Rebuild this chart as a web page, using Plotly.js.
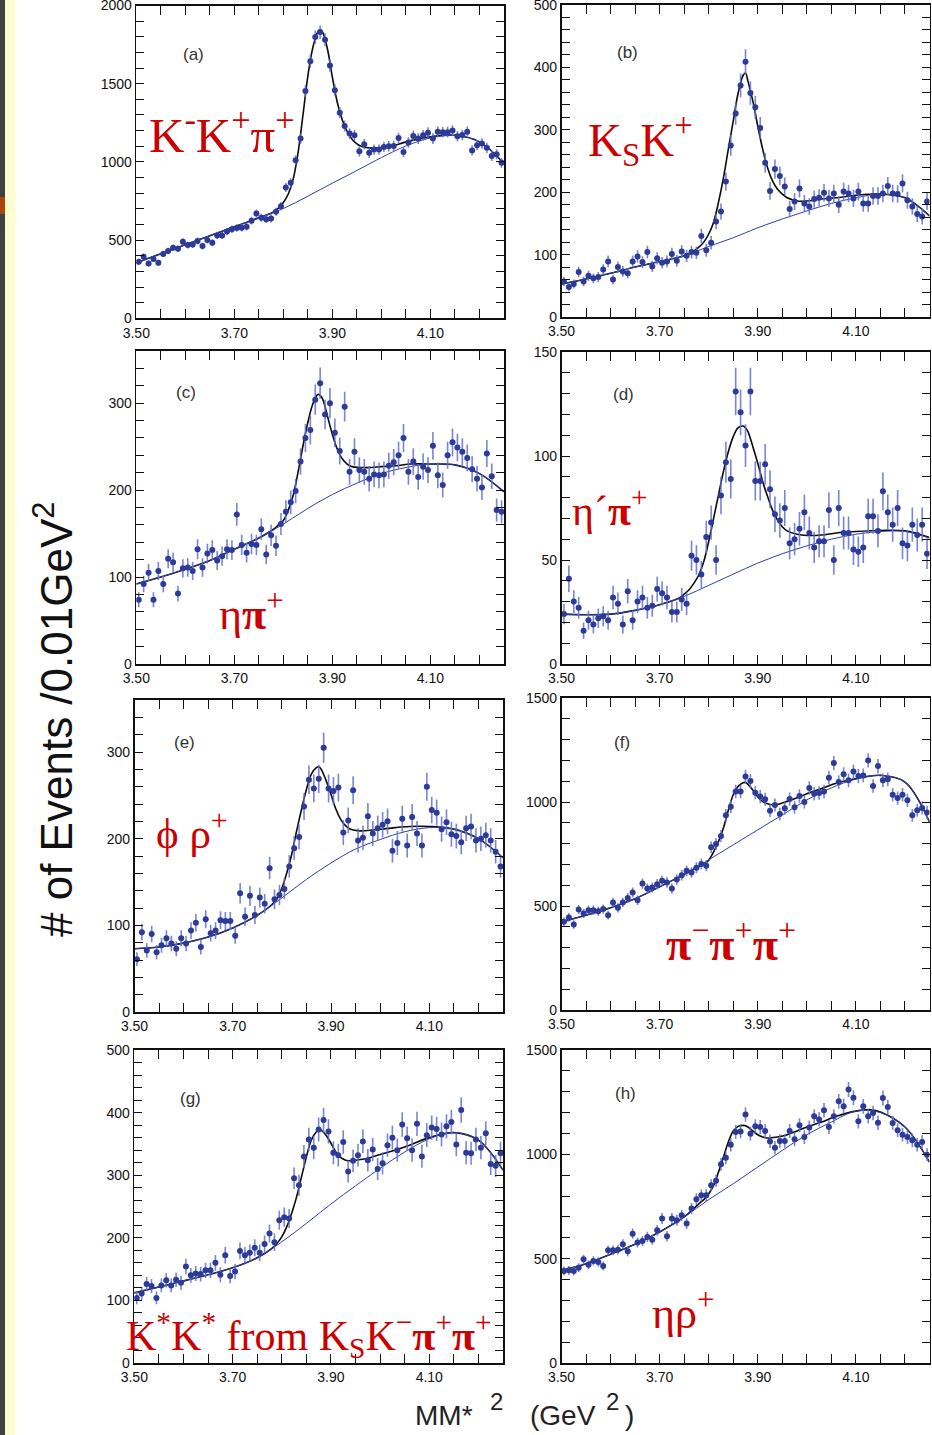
<!DOCTYPE html>
<html>
<head>
<meta charset="utf-8">
<script src="https://cdn.plot.ly/plotly-3.0.1.min.js"></script>
<style>
  html, body { margin: 0; padding: 0; background: #ffffff; }
  #chart { width: 932px; height: 1435px; }
</style>
</head>
<body>
<div id="chart"></div>
<script>
// Missing-mass-squared spectra, 0.01 GeV^2 bins from 3.50 to 4.25 GeV^2
const binLo = 3.50;
const binWidth = 0.01;

// Event counts per bin for each final state
const countsA = [362,394,351,379,355,411,430,451,445,489,468,472,494,462,500,483,530,530,555,570,577,579,585,624,670,643,634,638,681,717,836,866,1011,1149,1453,1643,1798,1830,1781,1617,1458,1315,1230,1181,1170,1068,1113,1058,1079,1079,1096,1100,1102,1153,1064,1124,1166,1149,1170,1187,1149,1192,1190,1190,1200,1164,1172,1192,1073,1107,1117,1090,1038,1049,994];
const countsB = [57,48,53,72,57,66,62,64,76,89,60,80,73,70,89,97,88,104,81,94,87,89,101,90,105,98,104,103,130,107,119,153,169,217,275,326,371,409,359,336,303,247,202,237,226,209,173,185,206,182,177,189,191,199,190,198,180,201,198,190,201,182,182,194,194,198,210,198,197,214,187,177,165,161,185];
const countsC = [74,92,105,74,107,92,121,117,81,110,111,107,132,111,127,131,119,124,132,131,172,137,128,138,137,155,126,148,136,161,175,186,199,233,260,269,304,323,287,300,266,245,296,221,244,223,221,213,218,217,218,228,232,240,260,221,233,215,227,223,251,217,206,240,255,249,244,237,224,213,203,242,216,177,175];
const countsD = [24,41,30,27,16,21,19,22,23,21,32,29,19,35,21,30,32,27,28,36,34,32,25,25,31,29,52,50,43,61,68,50,81,97,89,131,121,105,131,88,88,96,84,72,69,75,58,60,65,73,63,56,59,59,74,50,75,63,63,55,54,56,71,71,64,83,73,67,75,58,57,67,62,67,53];
const countsE = [61,92,71,90,69,77,85,79,73,85,79,94,103,75,107,91,94,106,105,105,88,137,110,134,112,132,125,166,130,135,142,168,189,202,237,268,258,269,305,258,255,259,207,221,256,198,201,226,206,212,216,220,186,195,223,192,225,206,192,260,233,230,211,219,205,203,196,212,214,198,200,204,198,185,168];
const countsF = [424,445,411,483,464,480,480,475,485,456,517,491,517,539,565,528,608,584,589,605,621,613,584,627,648,669,661,684,702,694,782,798,837,936,977,1050,1050,1122,1101,1045,1026,1013,958,986,942,970,1014,975,1029,1000,1067,1040,1043,1051,1117,1187,1096,1133,1104,1147,1125,1128,1200,1077,1173,1104,1109,1035,1019,1035,1008,936,960,971,950];
const countsG = [104,111,126,123,104,124,132,124,133,128,154,140,143,142,148,148,160,141,172,139,146,179,172,176,184,176,190,207,193,228,233,231,295,284,330,357,344,373,388,370,336,332,353,306,323,332,354,324,341,310,319,348,360,340,381,359,340,382,330,364,376,374,365,378,385,349,404,336,335,357,344,367,318,315,335];
const countsH = [441,444,441,457,497,471,489,484,465,540,540,543,569,535,620,577,585,604,591,636,692,607,692,684,708,668,740,785,804,804,852,873,952,984,1046,1107,1110,1191,1099,1134,1131,1112,1062,1032,1064,1064,1112,1072,1139,1083,1128,1182,1167,1211,1131,1182,1254,1231,1311,1271,1158,1230,1182,1198,1151,1270,1227,1150,1115,1094,1083,1067,1046,1059,998];

// Background fit curves sampled every 0.05 GeV^2
const bgX = [3.50,3.55,3.60,3.65,3.70,3.75,3.80,3.85,3.90,3.95,4.00,4.05,4.10,4.15,4.20,4.25];
const bgA = [355,413,470,528,585,643,702,781,864,945,1028,1102,1153,1170,1128,990];
const bgB = [53,61,70,80,89,98,113,127,143,157,170,182,191,197,191,162];
const bgC = [92,100,109,119,132,145,161,179,195,208,219,226,230,229,219,198];
const bgD = [24,23.7,24,25.8,28.5,32.5,37.8,43.2,48.5,53,56.8,60,62.4,63.7,63.7,60.5];
const bgE = [73,75,79.5,86.5,97,111.6,131.7,153,172,188,199,208,212.7,211,200,178];
const bgF = [424,456,492,535,592,652,722,794,866,938,1010,1068,1110,1128,1096,904];
const bgG = [112,121.5,131,141,152,168,193.5,223,254,283,311,337,358,368,356,308];
const bgH = [444,476,521,569,628,700,783,859,939,1019,1094,1155,1207,1200,1131,963];

// Total fit (signal + background) sampled more densely across the peak
const fitXA = [3.50,3.55,3.60,3.65,3.70,3.75,3.78,3.79,3.80,3.81,3.82,3.83,3.84,3.85,3.86,3.87,3.875,3.88,3.89,3.90,3.91,3.92,3.93,3.94,3.95,3.96,3.98,4.00,4.02,4.05,4.10,4.15,4.20,4.25];
const fitA  = [355,413,470,528,585,643,680,705,740,795,890,1060,1300,1550,1730,1830,1845,1830,1720,1540,1380,1270,1195,1145,1115,1098,1088,1092,1100,1128,1160,1170,1128,990];
const fitXB = [3.50,3.55,3.60,3.65,3.70,3.75,3.77,3.78,3.79,3.80,3.81,3.82,3.83,3.84,3.85,3.86,3.87,3.875,3.88,3.89,3.90,3.91,3.92,3.93,3.94,3.95,3.96,3.98,4.00,4.03,4.06,4.10,4.15,4.20,4.25];
const fitB  = [53,61,70,80,89,98,106,112,120,133,152,184,223,269,314,359,387,391,378,346,306,269,239,218,205,197,191,186,186,189,191,195,197,191,162];
const fitXC = [3.50,3.55,3.60,3.65,3.70,3.75,3.78,3.79,3.80,3.81,3.82,3.83,3.84,3.85,3.86,3.87,3.875,3.88,3.89,3.90,3.91,3.92,3.93,3.94,3.96,3.98,4.00,4.03,4.06,4.10,4.15,4.20,4.25];
const fitC  = [92,100,109,119,132,145,155,160,165,177,194,221,251,278,299,310,309,305,285,264,247,236,230,227,226,226,227,228,230,230,229,219,198];
const fitXD = [3.50,3.55,3.60,3.65,3.70,3.74,3.75,3.76,3.77,3.78,3.79,3.80,3.81,3.82,3.83,3.84,3.85,3.86,3.87,3.875,3.88,3.89,3.90,3.91,3.92,3.93,3.94,3.95,3.96,3.98,4.00,4.03,4.06,4.10,4.15,4.20,4.25];
const fitD  = [24,23.7,24,25.8,28.5,31.7,33.6,35.7,38.9,42.9,49.3,58.9,70,81.3,92.5,102,109.3,113.6,114.4,113.6,111.7,104.5,96.5,87.7,80.5,74,69.3,66,64,62.4,61.8,62,63,63.7,64.2,64,60.8];
const fitXE = [3.50,3.55,3.60,3.65,3.70,3.75,3.78,3.79,3.80,3.81,3.82,3.83,3.84,3.85,3.86,3.87,3.875,3.88,3.89,3.90,3.91,3.92,3.93,3.94,3.96,3.98,4.00,4.03,4.06,4.10,4.15,4.20,4.25];
const fitE  = [73,75,79.5,86.5,97,111.6,124,131,143,160.6,182,209,234,257,274.5,282,283,280,267,251,234,222,214.7,210.8,209,209.7,210.8,212.7,214,214,211,200,178];
const fitXF = [3.50,3.55,3.60,3.65,3.70,3.75,3.78,3.79,3.80,3.81,3.82,3.83,3.84,3.85,3.86,3.87,3.875,3.88,3.89,3.90,3.91,3.92,3.93,3.94,3.96,3.98,4.00,4.03,4.06,4.10,4.13,4.15,4.20,4.25];
const fitF  = [424,456,492,535,592,652,690,700,720,760,810,875,960,1035,1075,1093,1094,1085,1058,1025,1002,992,987,988,1003,1020,1040,1065,1090,1112,1125,1128,1096,904];
const fitXG = [3.50,3.55,3.60,3.65,3.70,3.75,3.78,3.79,3.80,3.81,3.82,3.83,3.84,3.85,3.86,3.87,3.875,3.88,3.89,3.90,3.91,3.92,3.93,3.94,3.96,3.98,4.00,4.03,4.06,4.10,4.15,4.20,4.25];
const fitG  = [112,121.5,131,141,152,168,183,191,201.5,217.5,239,265,297,329,356,369,372,372,364,351,337,328,324,323,325,328,333,340,348,360,368,356,308];
const fitXH = [3.50,3.55,3.60,3.65,3.70,3.75,3.78,3.79,3.80,3.81,3.82,3.83,3.84,3.85,3.86,3.87,3.875,3.88,3.89,3.90,3.91,3.92,3.93,3.94,3.96,3.98,4.00,4.03,4.06,4.10,4.13,4.15,4.20,4.25];
const fitH  = [444,476,521,569,628,700,763,783,811,851,915,987,1059,1112,1134,1139,1137,1131,1112,1094,1083,1078,1080,1083,1094,1112,1131,1155,1182,1207,1214,1203,1131,963];

// Panel tags and decay-channel labels
const panelTags = ['(a)','(b)','(c)','(d)','(e)','(f)','(g)','(h)'];
const channelLabels = [
  'K<sup>-</sup>K<sup>+</sup>π<sup>+</sup>',
  'K<sub>S</sub>K<sup>+</sup>',
  'η<b>π</b><sup>+</sup>',
  'η´<b>π</b><sup>+</sup>',
  'ϕ ρ<sup>+</sup>',
  '<b>π</b><sup>−</sup><b>π</b><sup>+</sup><b>π</b><sup>+</sup>',
  'K<sup>*</sup>K<sup>*</sup> from K<sub>S</sub>K<sup>−</sup><b>π</b><sup>+</sup><b>π</b><sup>+</sup>',
  'ηρ<sup>+</sup>'
];

// ---------------------------------------------------------------------------
const W = 932, H = 1435;
const px = x => x / W;
const py = y => 1 - y / H;

const binCenters = countsA.map((_, k) => +(binLo + (k + 0.5) * binWidth).toFixed(3));
const poissonErr = counts => counts.map(n => Math.sqrt(n));

// plot-area boxes in pixels, y ranges and tick spacing for every panel
const panels = [
  {counts: countsA, bg: bgA, fx: fitXA, fy: fitA, box: [136.3, 504, 5.5, 318.3],   yr: [0, 2000], dt: 500, mdt: 100,
   tag: [193, 54], lab: [147, 132, 49]},
  {counts: countsB, bg: bgB, fx: fitXB, fy: fitB, box: [561.5, 929.5, 5, 317], yr: [0, 500],  dt: 100, mdt: 20,
   tag: [627, 53], lab: [586, 140, 47]},
  {counts: countsC, bg: bgC, fx: fitXC, fy: fitC, box: [136.3, 504, 351, 664],   yr: [0, 360],  dt: 100, mdt: 20,
   tag: [186, 393], lab: [217, 611, 44]},
  {counts: countsD, bg: bgD, fx: fitXD, fy: fitD, box: [561.5, 929.5, 352, 664], yr: [0, 150],  dt: 50,  mdt: 10,
   tag: [623, 394], lab: [570, 508, 42]},
  {counts: countsE, bg: bgE, fx: fitXE, fy: fitE, box: [134.5, 503, 700, 1012],  yr: [0, 360],  dt: 100, mdt: 20,
   tag: [184, 742], lab: [154, 830, 43]},
  {counts: countsF, bg: bgF, fx: fitXF, fy: fitF, box: [561.5, 929.5, 698, 1010], yr: [0, 1500], dt: 500, mdt: 100,
   tag: [622, 742], lab: [664, 941, 46]},
  {counts: countsG, bg: bgG, fx: fitXG, fy: fitG, box: [134.3, 503, 1050, 1363], yr: [0, 500],  dt: 100, mdt: 20,
   tag: [190, 1098], lab: [124, 1335, 42]},
  {counts: countsH, bg: bgH, fx: fitXH, fy: fitH, box: [561.5, 929.5, 1050, 1363], yr: [0, 1500], dt: 500, mdt: 100,
   tag: [625, 1093], lab: [650, 1310, 44]}
];

const INK = '#111111';
const SANS = 'Liberation Sans, Arial, Helvetica, sans-serif';
const SERIF = 'Liberation Serif, Times New Roman, serif';
const RED = '#cc0000';

const traces = [];
const layout = {
  width: W, height: H,
  margin: {l: 0, r: 0, t: 0, b: 0},
  paper_bgcolor: '#ffffff',
  plot_bgcolor: '#ffffff',
  showlegend: false,
  annotations: [],
  shapes: [
    // left page edge strips
    {type: 'rect', xref: 'paper', yref: 'paper', x0: 0, x1: px(5), y0: 0, y1: 1,
     fillcolor: '#404040', line: {width: 0}, layer: 'below'},
    {type: 'rect', xref: 'paper', yref: 'paper', x0: px(5), x1: px(15.5), y0: 0, y1: 1,
     fillcolor: '#fdfdd2', line: {width: 0}, layer: 'below'},
    {type: 'rect', xref: 'paper', yref: 'paper', x0: 0, x1: px(5), y0: py(214), y1: py(197),
     fillcolor: '#a8460e', line: {width: 0}, layer: 'below'}
  ]
};

panels.forEach((p, i) => {
  const n = i === 0 ? '' : String(i + 1);
  const xa = 'x' + n, ya = 'y' + n;
  const [x0, x1, y0, y1] = p.box;

  layout['xaxis' + n] = {
    domain: [px(x0), px(x1)], anchor: ya, range: [3.5, 4.25],
    tickmode: 'linear', tick0: 3.5, dtick: 0.2, tickformat: '.2f',
    ticks: 'inside', ticklen: 9, tickwidth: 1, tickcolor: INK,
    minor: {ticks: 'inside', tickmode: 'linear', tick0: 3.5, dtick: 0.05, ticklen: 9, tickwidth: 1, tickcolor: INK, showgrid: false},
    showline: true, linecolor: INK, linewidth: 1.6, mirror: 'ticks',
    showgrid: false, zeroline: false, ticklabelstandoff: 1, ticklabeloverflow: 'allow',
    tickfont: {family: SANS, size: 14, color: INK}, fixedrange: true
  };
  layout['yaxis' + n] = {
    domain: [py(y1), py(y0)], anchor: xa, range: p.yr,
    tickmode: 'linear', tick0: 0, dtick: p.dt,
    ticks: 'inside', ticklen: 8, tickwidth: 1, tickcolor: INK,
    minor: {ticks: 'inside', tickmode: 'linear', tick0: 0, dtick: p.mdt, ticklen: 8, tickwidth: 1, tickcolor: INK, showgrid: false},
    showline: true, linecolor: INK, linewidth: 1.6, mirror: 'ticks',
    showgrid: false, zeroline: false, ticklabeloverflow: 'allow',
    tickfont: {family: SANS, size: 14, color: INK}, fixedrange: true
  };

  // total fit
  traces.push({
    type: 'scatter', mode: 'lines', x: p.fx, y: p.fy, xaxis: xa, yaxis: ya,
    line: {color: '#0a0a0a', width: 1.6, shape: 'spline', smoothing: 1}, hoverinfo: 'skip'
  });
  // background
  traces.push({
    type: 'scatter', mode: 'lines', x: bgX, y: p.bg, xaxis: xa, yaxis: ya,
    line: {color: '#2f3fae', width: 1, shape: 'spline', smoothing: 1}, hoverinfo: 'skip'
  });
  // data points with statistical errors
  traces.push({
    type: 'scatter', mode: 'markers', x: binCenters, y: p.counts, xaxis: xa, yaxis: ya,
    marker: {color: '#2c3a98', size: 6, line: {width: 0}},
    error_y: {type: 'data', array: poissonErr(p.counts), visible: true, color: 'rgba(96,112,205,0.85)', thickness: 1.6, width: 0},
    cliponaxis: true, hoverinfo: 'skip'
  });

  layout.annotations.push({
    xref: 'paper', yref: 'paper', x: px(p.tag[0]), y: py(p.tag[1]),
    xanchor: 'center', yanchor: 'middle', showarrow: false,
    text: panelTags[i], font: {family: SANS, size: 17, color: '#333333'}
  });
  layout.annotations.push({
    xref: 'paper', yref: 'paper', x: px(p.lab[0]), y: py(p.lab[1]),
    xanchor: 'left', yanchor: 'middle', showarrow: false,
    text: channelLabels[i], font: {family: SERIF, size: p.lab[2], color: RED}
  });
});

// shared y-axis title
layout.annotations.push({
  xref: 'paper', yref: 'paper', x: px(53), y: py(720), textangle: -90,
  xanchor: 'center', yanchor: 'middle', showarrow: false,
  text: '# of Events /0.01GeV<sup>2</sup>', font: {family: SANS, size: 44, color: INK}
});

// shared x-axis title, set piece by piece
const xTitleParts = [
  {text: 'MM*',  x: 413, y: 1415, size: 28},
  {text: '2',    x: 488, y: 1401, size: 24},
  {text: '(GeV', x: 528, y: 1415, size: 28},
  {text: '2',    x: 604, y: 1401, size: 24},
  {text: ')',    x: 623, y: 1415, size: 28}
];
xTitleParts.forEach(t => layout.annotations.push({
  xref: 'paper', yref: 'paper', x: px(t.x), y: py(t.y),
  xanchor: 'left', yanchor: 'middle', showarrow: false,
  text: t.text, font: {family: SANS, size: t.size, color: '#222222'}
}));

Plotly.newPlot('chart', traces, layout, {staticPlot: true, displayModeBar: false});
</script>
</body>
</html>
